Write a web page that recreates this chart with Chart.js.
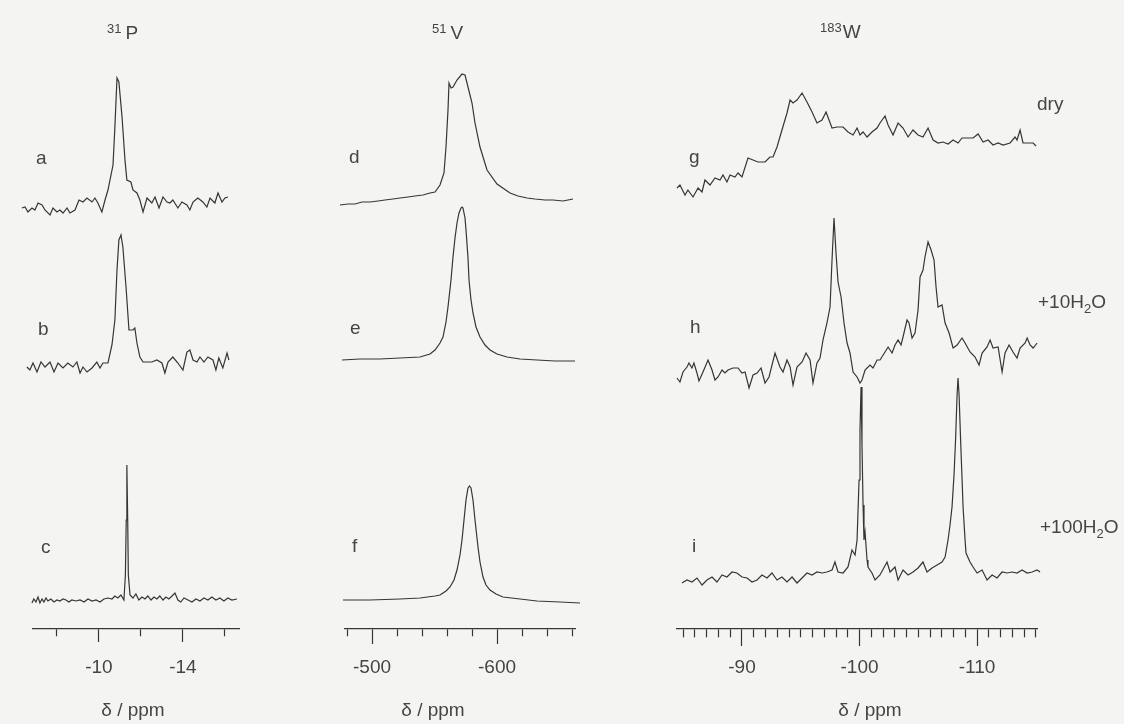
<!DOCTYPE html>
<html>
<head>
<meta charset="utf-8">
<script src="https://cdn.jsdelivr.net/npm/chart.js@4/dist/chart.umd.min.js"></script>
<style>
  html, body { margin: 0; padding: 0; background: #f4f4f2; }
  #wrap { position: relative; width: 1124px; height: 724px; overflow: hidden;
          font-family: "Liberation Sans", Arial, sans-serif; color: #454545; }
  canvas { position: absolute; top: 0; }
  .t { position: absolute; font-size: 19px; line-height: 1; white-space: nowrap; }
  .h { font-size: 19px; }
  .sup { font-size: 13px; position: relative; top: -6px; margin-right: 4px; }
  .sub { font-size: 13px; position: relative; top: 5px; }
  .ax { transform: translateX(-50%); }
</style>
</head>
<body>
<div id="wrap">
  <canvas id="colP" width="320" height="724" style="left:0px"></canvas>
  <canvas id="colV" width="320" height="724" style="left:320px"></canvas>
  <canvas id="colW" width="484" height="724" style="left:640px"></canvas>

  <div class="t h" style="left:107px;top:23px"><span class="sup">31</span>P</div>
  <div class="t h" style="left:432px;top:23px"><span class="sup">51</span>V</div>
  <div class="t h" style="left:820px;top:22px"><span class="sup" style="margin-right:1px">183</span>W</div>

  <div class="t" style="left:36px;top:148px">a</div>
  <div class="t" style="left:38px;top:319px">b</div>
  <div class="t" style="left:41px;top:537px">c</div>
  <div class="t" style="left:349px;top:147px">d</div>
  <div class="t" style="left:350px;top:318px">e</div>
  <div class="t" style="left:352px;top:536px">f</div>
  <div class="t" style="left:689px;top:147px">g</div>
  <div class="t" style="left:690px;top:317px">h</div>
  <div class="t" style="left:692px;top:536px">i</div>

  <div class="t" style="left:1037px;top:94px">dry</div>
  <div class="t" style="left:1038px;top:292px">+10H<span class="sub">2</span>O</div>
  <div class="t" style="left:1040px;top:517px">+100H<span class="sub">2</span>O</div>

  <div class="t ax" style="left:133px;top:700px">δ / ppm</div>
  <div class="t ax" style="left:433px;top:700px">δ / ppm</div>
  <div class="t ax" style="left:870px;top:700px">δ / ppm</div>
</div>

<script>
// 31P spectra (a, b, c): chemical shift in ppm, signal in arbitrary units
const aShift = [-6.33,-6.48,-6.62,-6.81,-6.95,-7.10,-7.29,-7.43,-7.67,-7.81,-8.00,-8.14,-8.29,-8.48,-8.62,-8.86,-9.05,-9.24,-9.43,-9.67,-9.81,-9.95,-10.14,-10.29,-10.43,-10.67,-10.76,-10.86,-10.95,-11.10,-11.24,-11.33,-11.52,-11.62,-11.81,-11.95,-12.10,-12.29,-12.52,-12.67,-12.86,-13.05,-13.24,-13.38,-13.52,-13.76,-13.95,-14.19,-14.33,-14.48,-14.71,-14.95,-15.14,-15.29,-15.52,-15.67,-15.86,-16.00,-16.14];
const aSignal = [-1,0,-5,-1,-3,4,2,-3,-8,-1,-5,-3,-6,-1,-6,-3,7,5,9,5,9,4,-5,7,17,42,80,129,125,90,47,27,25,17,14,7,-5,9,4,10,-1,10,5,4,7,-1,5,2,-3,5,9,5,0,9,4,14,5,9,10];

const bShift = [-6.57,-6.71,-6.86,-7.05,-7.24,-7.43,-7.67,-7.86,-8.05,-8.29,-8.52,-8.76,-8.95,-9.10,-9.24,-9.43,-9.67,-9.90,-10.05,-10.19,-10.43,-10.62,-10.76,-10.86,-10.95,-11.05,-11.14,-11.29,-11.43,-11.62,-11.71,-11.81,-11.95,-12.10,-12.29,-12.52,-12.76,-13.00,-13.14,-13.29,-13.52,-13.76,-14.00,-14.19,-14.33,-14.48,-14.67,-14.81,-15.00,-15.19,-15.43,-15.57,-15.71,-15.90,-16.10,-16.19];
const bSignal = [-2,-5,2,-7,3,-2,3,-7,2,-3,2,-2,3,-8,-2,-7,-3,3,-3,2,2,20,45,95,125,130,118,78,35,35,37,22,8,3,3,3,5,2,-8,3,8,2,-5,13,15,5,3,8,3,8,5,-5,7,-3,12,5];

const cShift = [-6.81,-6.90,-7.00,-7.10,-7.19,-7.29,-7.38,-7.48,-7.57,-7.71,-7.86,-8.00,-8.14,-8.29,-8.43,-8.57,-8.71,-8.90,-9.10,-9.29,-9.48,-9.67,-9.86,-10.05,-10.24,-10.43,-10.62,-10.76,-10.90,-11.05,-11.19,-11.26,-11.30,-11.33,-11.37,-11.40,-11.48,-11.62,-11.76,-11.90,-12.05,-12.19,-12.33,-12.48,-12.62,-12.76,-12.90,-13.05,-13.19,-13.33,-13.48,-13.62,-13.76,-13.90,-14.05,-14.24,-14.43,-14.62,-14.81,-15.00,-15.19,-15.38,-15.57,-15.76,-15.95,-16.14,-16.33,-16.57];
const cSignal = [-3,1,-2,3,-3,1,-2,2,-1,1,-2,0,-1,1,0,-2,0,-1,0,-2,1,-1,0,-2,1,2,1,4,2,5,0,25,80,135,80,25,5,2,6,0,3,1,4,0,3,1,4,0,3,1,4,7,0,-2,2,0,-2,1,-1,2,0,3,0,2,-1,2,0,1];

// 51V spectra (d, e, f)
const dShift = [-474.4,-480.8,-486.4,-492.0,-498.4,-504.8,-510.4,-516.8,-522.4,-528.8,-534.4,-540.8,-546.4,-550.4,-554.4,-557.6,-559.2,-560.8,-561.6,-563.2,-564.8,-568.0,-572.0,-574.4,-576.8,-580.0,-582.4,-586.4,-592.0,-600.0,-610.4,-616.8,-624.0,-630.4,-638.4,-644.8,-652.8,-660.8];
const dSignal = [-5,-4,-4,-2,-2,-1,0,1,2,3,4,5,7,8,15,27,53,90,117,112,113,120,126,125,113,97,77,53,30,16,7,4,2,1,0,0,-1,1];

const eShift = [-476.0,-490.4,-506.4,-522.4,-538.4,-546.4,-550.4,-554.4,-556.8,-559.2,-560.8,-563.2,-564.8,-566.4,-568.0,-569.6,-571.2,-572.0,-572.8,-574.4,-575.2,-576.8,-577.6,-579.2,-580.8,-583.2,-586.4,-590.4,-594.4,-600.0,-608.0,-618.4,-632.0,-646.4,-662.4];
const eSignal = [0,1,1,2,3,6,10,17,23,38,53,80,103,122,137,147,152,153,152,142,130,102,80,60,47,33,23,15,10,6,3,1,0,-1,-1];

const fShift = [-476.8,-498.4,-522.4,-538.4,-550.4,-554.4,-559.2,-562.4,-565.6,-568.0,-570.4,-572.0,-573.6,-575.2,-576.8,-578.0,-579.2,-580.8,-582.4,-584.8,-586.4,-588.8,-591.2,-594.4,-599.2,-604.8,-618.4,-632.0,-650.4,-666.4];
const fSignal = [0,0,1,2,4,5,9,13,20,30,45,60,80,100,112,114,112,100,80,53,38,23,15,10,6,3,1,-1,-2,-3];

// 183W spectra (g dry, h +10H2O, i +100H2O)
const gShift = [-84.47,-84.72,-85.15,-85.40,-85.83,-86.26,-86.60,-86.85,-87.28,-87.70,-88.13,-88.38,-88.72,-88.98,-89.40,-89.66,-90.00,-90.51,-90.94,-91.36,-91.96,-92.38,-92.64,-92.98,-93.40,-93.83,-94.09,-94.34,-94.68,-95.11,-95.53,-95.96,-96.38,-96.81,-97.15,-97.66,-98.09,-98.60,-99.02,-99.45,-99.79,-100.04,-100.30,-100.64,-101.06,-101.49,-101.74,-102.17,-102.43,-102.85,-103.28,-103.70,-104.13,-104.55,-104.98,-105.40,-105.83,-106.26,-106.68,-107.11,-107.53,-107.96,-108.38,-108.72,-109.23,-109.66,-110.09,-110.51,-110.94,-111.36,-111.79,-112.21,-112.81,-113.23,-113.40,-113.66,-113.91,-114.34,-114.77,-115.02];
const gSignal = [2,5,-5,0,-7,2,-2,10,5,12,10,15,8,15,13,17,13,32,30,28,28,33,33,43,60,77,90,87,90,97,88,78,67,70,78,62,63,63,58,55,62,55,58,53,58,62,67,74,65,55,67,62,53,60,55,53,62,50,47,48,46,50,47,52,52,52,56,48,50,45,47,45,47,53,50,60,47,47,47,44];

const hShift = [-84.47,-84.72,-84.98,-85.32,-85.49,-85.74,-85.91,-86.17,-86.34,-86.68,-87.11,-87.45,-87.70,-87.96,-88.30,-88.55,-88.81,-89.23,-89.66,-90.00,-90.26,-90.60,-90.94,-91.28,-91.62,-91.96,-92.30,-92.81,-93.23,-93.49,-93.83,-94.09,-94.34,-94.68,-95.11,-95.45,-95.79,-96.04,-96.38,-96.64,-96.89,-97.23,-97.49,-97.66,-97.83,-98.00,-98.17,-98.43,-98.68,-98.94,-99.19,-99.45,-99.79,-100.04,-100.21,-100.47,-100.89,-101.15,-101.49,-101.74,-102.17,-102.43,-102.77,-103.02,-103.28,-103.53,-103.70,-104.04,-104.21,-104.47,-104.72,-104.98,-105.15,-105.40,-105.57,-105.83,-106.09,-106.34,-106.51,-106.68,-107.02,-107.28,-107.62,-107.96,-108.30,-108.72,-108.98,-109.40,-109.83,-110.17,-110.43,-110.85,-111.11,-111.36,-111.79,-112.13,-112.38,-112.72,-113.06,-113.40,-113.66,-114.09,-114.26,-114.51,-114.77,-115.11];
const hSignal = [-8,-12,-2,3,7,2,7,-3,-11,-2,10,0,-10,-7,0,-3,0,2,2,-3,-2,-18,-5,-3,2,-13,-7,17,3,-2,10,3,-15,3,8,17,10,-13,7,12,30,47,63,110,152,117,88,73,47,27,17,-2,-7,-13,-10,0,5,2,10,10,18,23,17,25,30,25,33,50,47,32,37,60,93,100,113,128,120,110,83,63,65,47,37,22,25,32,27,18,13,5,17,23,30,22,23,-2,17,25,18,12,22,27,32,25,22,27];

const iShift = [-84.89,-85.32,-85.74,-86.17,-86.60,-87.02,-87.45,-87.87,-88.30,-88.72,-89.15,-89.57,-90.00,-90.43,-90.85,-91.28,-91.70,-92.13,-92.55,-92.98,-93.40,-93.83,-94.26,-94.68,-95.11,-95.53,-95.96,-96.38,-96.81,-97.23,-97.66,-97.91,-98.17,-98.60,-99.02,-99.36,-99.62,-99.79,-99.96,-100.04,-100.13,-100.21,-100.30,-100.38,-100.47,-100.64,-100.72,-101.06,-101.32,-101.74,-102.34,-102.60,-103.02,-103.28,-103.70,-104.13,-104.55,-104.98,-105.40,-105.74,-106.17,-106.60,-107.02,-107.28,-107.53,-107.70,-107.87,-108.04,-108.17,-108.30,-108.38,-108.47,-108.60,-108.72,-108.81,-108.98,-109.06,-109.40,-109.66,-110.00,-110.43,-110.85,-111.28,-111.70,-112.13,-112.55,-112.98,-113.40,-113.83,-114.26,-114.68,-115.11,-115.36];
const iSignal = [-6,-3,-5,-1,-8,-3,0,-5,2,0,5,4,0,-1,-5,-3,2,-1,4,-3,0,-5,0,-6,-1,4,2,5,4,5,7,15,5,4,10,27,22,37,97,147,190,132,72,37,45,17,10,4,-3,2,15,5,10,-3,7,2,5,9,15,5,9,12,15,20,37,52,70,102,137,182,199,182,137,99,70,37,24,15,10,4,7,-3,2,-1,5,4,5,4,7,4,5,7,5];

// axis ticks (all) and the labelled ones
const pTicks = [-8, -10, -12, -14, -16];
const pLabels = [-10, -14];
const vTicks = [-480, -500, -520, -540, -560, -580, -600, -620, -640, -660];
const vLabels = [-500, -600];
const wTicks = [-85,-86,-87,-88,-89,-90,-91,-92,-93,-94,-95,-96,-97,-98,-99,-100,-101,-102,-103,-104,-105,-106,-107,-108,-109,-110,-111,-112,-113,-114,-115];
const wLabels = [-90, -100, -110];

const LINE = '#353535';
const INK = '#454545';
const AXIS_Y = 629;   // pixel row of the x axis line

function column(id, traces, xMin, xMax, ticks, labels, major, minor, padL, padR) {
  const pad = 27.6 - major;
  // the x axis band ends up as tick + 2*padding + label line height
  const band = major + 2 * pad + 22.8;
  new Chart(document.getElementById(id), {
    type: 'line',
    data: {
      datasets: traces.map(t => ({
        data: t.shift.map((x, k) => ({ x: x, y: t.signal[k] + t.lift })),
        borderColor: LINE,
        borderWidth: 1.2,
        pointRadius: 0,
        tension: 0,
        fill: false,
        clip: false
      }))
    },
    options: {
      responsive: false,
      animation: false,
      events: [],
      layout: { padding: { left: padL, right: padR, top: 0, bottom: 724 - AXIS_Y - band } },
      plugins: { legend: { display: false }, tooltip: { enabled: false } },
      scales: {
        x: {
          type: 'linear',
          reverse: true,
          min: xMin,
          max: xMax,
          afterBuildTicks: s => { s.ticks = ticks.map(v => ({ value: v })); },
          border: { display: true, color: LINE, width: 1.3 },
          grid: {
            drawOnChartArea: false,
            drawTicks: true,
            tickLength: major,
            tickColor: LINE,
            tickWidth: 1.2,
            tickBorderDash: [major, major],
            tickBorderDashOffset: c => labels.includes(c.tick.value) ? 0 : major - minor
          },
          ticks: {
            autoSkip: false,
            maxRotation: 0,
            minRotation: 0,
            padding: pad,
            color: INK,
            font: { family: 'Liberation Sans', size: 19 },
            callback: v => labels.includes(v) ? String(v) : ''
          }
        },
        y: { display: false, min: 0, max: AXIS_Y }
      }
    }
  });
}

column('colP', [
  { shift: aShift, signal: aSignal, lift: 422 },
  { shift: bShift, signal: bSignal, lift: 264 },
  { shift: cShift, signal: cSignal, lift: 29 }
], -16.67, -6.86, pTicks, pLabels, 13, 7, 33, 81);

column('colV', [
  { shift: dShift, signal: dSignal, lift: 429 },
  { shift: eShift, signal: eSignal, lift: 269 },
  { shift: fShift, signal: fSignal, lift: 29 }
], -662.4, -478.4, vTicks, vLabels, 15, 7, 25, 65);

column('colW', [
  { shift: gShift, signal: gSignal, lift: 439 },
  { shift: hShift, signal: hSignal, lift: 259 },
  { shift: iShift, signal: iSignal, lift: 52 }
], -115.1, -84.47, wTicks, wLabels, 17, 8, 37, 87);
</script>
</body>
</html>
